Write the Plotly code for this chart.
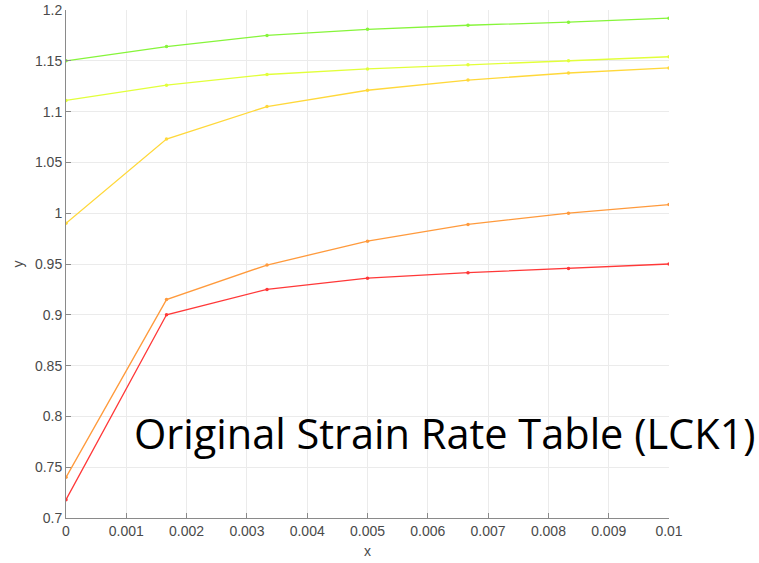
import plotly.graph_objects as go

x_vals = [0, 0.01/6, 0.02/6, 0.005, 0.04/6, 0.05/6, 0.01]

series_names = ["s1", "s2", "s3", "s4", "s5"]
y_red = [0.718, 0.900, 0.925, 0.936, 0.9415, 0.9455, 0.950]
y_orange = [0.740, 0.915, 0.949, 0.9725, 0.989, 1.000, 1.0085]
y_yellow = [0.990, 1.073, 1.105, 1.121, 1.131, 1.138, 1.143]
y_yellowgreen = [1.111, 1.126, 1.1365, 1.142, 1.146, 1.150, 1.154]
y_green = [1.150, 1.164, 1.175, 1.181, 1.185, 1.188, 1.192]

colors = ["#ff3838", "#ff9a3c", "#ffd83a", "#e2ff3a", "#86f53a"]
all_y = [y_red, y_orange, y_yellow, y_yellowgreen, y_green]

x_ticks = [0, 0.001, 0.002, 0.003, 0.004, 0.005, 0.006, 0.007, 0.008, 0.009, 0.01]
x_tick_text = ["0", "0.001", "0.002", "0.003", "0.004", "0.005", "0.006", "0.007", "0.008", "0.009", "0.01"]
y_ticks = [0.7, 0.75, 0.8, 0.85, 0.9, 0.95, 1.0, 1.05, 1.1, 1.15, 1.2]
y_tick_text = ["0.7", "0.75", "0.8", "0.85", "0.9", "0.95", "1", "1.05", "1.1", "1.15", "1.2"]

fig = go.Figure()
for name, ys, c in zip(series_names, all_y, colors):
    fig.add_trace(go.Scatter(x=x_vals, y=ys, mode="lines+markers", name=name,
                             line=dict(color=c, width=1.3),
                             marker=dict(color=c, size=3.5), showlegend=False))

axis_common = dict(showgrid=True, gridcolor="#ebebeb", gridwidth=1,
                   showline=True, linecolor="#8a8a8a", linewidth=1,
                   ticks="inside", ticklen=5, tickcolor="#8a8a8a",
                   tickfont=dict(family="Liberation Sans, Arial", size=14, color="#4a4a4a"),
                   zeroline=False, mirror=False, automargin=False)

fig.update_xaxes(range=[0, 0.01], tickvals=x_ticks, ticktext=x_tick_text,
                 title=dict(text="x", font=dict(family="Liberation Sans, Arial", size=14, color="#4a4a4a"), standoff=8),
                 **axis_common)
fig.update_yaxes(range=[0.7, 1.2], tickvals=y_ticks, ticktext=y_tick_text,
                 title=dict(text="y", font=dict(family="Liberation Sans, Arial", size=14, color="#4a4a4a"), standoff=8),
                 **axis_common)

fig.add_annotation(text="Original Strain Rate Table (LCK1)", xref="paper", yref="paper",
                   x=0.1094, y=0.168, xanchor="left", yanchor="middle", showarrow=False,
                   font=dict(family="Open Sans", size=41.5, color="#000000"))

fig.update_layout(width=759, height=563, paper_bgcolor="white", plot_bgcolor="white",
                  margin=dict(l=66, r=90, t=10, b=45, autoexpand=False))

fig.write_html("out.html", config={"displayModeBar": False},
               post_script="document.body.style.margin='0';document.body.style.overflow='hidden';")
